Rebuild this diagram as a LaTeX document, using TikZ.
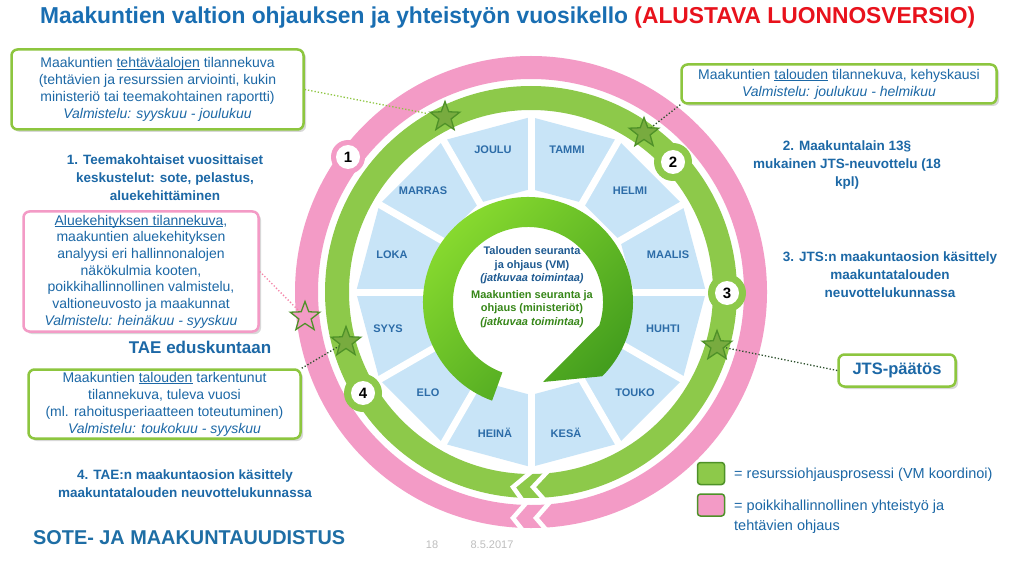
\documentclass[tikz,border=0pt]{standalone}
\usepackage{graphicx}
\usepackage{fontspec}
\setmainfont{Liberation Sans}
\usetikzlibrary{shapes.geometric,shadows,calc}
\definecolor{tblue}{RGB}{28,104,166}
\definecolor{titleblue}{RGB}{25,110,178}
\definecolor{tred}{RGB}{232,18,28}
\definecolor{gring}{RGB}{141,201,74}
\definecolor{pring}{RGB}{243,155,198}
\definecolor{gborder}{RGB}{141,198,63}
\definecolor{gdark}{RGB}{78,145,40}
\definecolor{mblue}{RGB}{200,228,247}
\definecolor{mtext}{RGB}{44,108,168}
\definecolor{cblue}{RGB}{30,90,145}
\definecolor{cgreen}{RGB}{55,135,25}
\definecolor{arlight}{RGB}{140,222,48}
\definecolor{ardark}{RGB}{68,158,30}
\definecolor{dotdark}{RGB}{45,80,45}
\definecolor{footgray}{RGB}{190,190,190}
\definecolor{sotecol}{RGB}{30,110,165}
\newcommand\myul[1]{\underline{\raisebox{0pt}[\height][0pt]{#1}}}
\tikzset{
  infobox/.style={draw=gborder, line width=2.5pt, rounded corners=6pt, fill=white, align=center, text=tblue,
    font=\fontsize{14}{17}\selectfont, inner sep=2pt,
    drop shadow={shadow xshift=2.5pt, shadow yshift=-2.5pt, opacity=0.3}},
  pinkbox/.style={infobox, draw=pring},
  steplabel/.style={align=center, text=tblue, font=\bfseries\fontsize{13.5}{18}\selectfont},
  monthlbl/.style={text=mtext, font=\bfseries\fontsize{11}{13}\selectfont},
  gstar/.style={star, star points=5, star point ratio=2.4, minimum size=31pt, inner sep=0pt,
    fill=gring!85!black, draw=gdark, line width=1.3pt},
  pstar/.style={gstar, fill=pring},
  numcirc/.style={circle, fill=white, minimum size=24pt, inner sep=0pt, font=\bfseries\fontsize{15}{15}\selectfont},
  dotline/.style={dotted, line width=1.3pt, draw=dotdark},
  chev/.style={draw=white, line width=4.5pt, miter limit=10},
  legsq/.style={draw=gdark, line width=1.5pt, rounded corners=3pt, minimum width=27pt, minimum height=22pt, inner sep=0pt},
}
\begin{document}
\begin{tikzpicture}[x=1pt,y=1pt]
\useasboundingbox (0,0) rectangle (1024,563);
\fill[white] (0,0) rectangle (1024,563);
\coordinate (C) at (531,271);
% rings
\fill[pring, even odd rule] (C) circle[radius=236pt] (C) circle[radius=213pt];
\fill[gring, even odd rule] (C) circle[radius=206pt] (C) circle[radius=182pt];
% chevron cuts
\draw[chev] (533.6,93) -- (513,76) -- (525,59);
\draw[chev] (549,93) -- (533,76) -- (548,59);
\draw[chev] (527,61) -- (513,45) -- (524,31);
\draw[chev] (550,61) -- (536,45) -- (548,31);
% month segments
\begin{scope}[shift={(C)}]
\foreach \a in {0,30,...,330} {
  \fill[mblue] (\a:103pt) -- (\a:175pt) -- (\a+30:175pt) -- (\a+30:103pt) -- cycle;
}
\foreach \a in {0,30,...,330} {
  \draw[white, line width=7pt] (\a:96pt) -- (\a:180pt);
}
\end{scope}
% month labels
\node[monthlbl] (m12) at (493,413) {JOULU};
\node[monthlbl] (m1) at (567,413) {TAMMI};
\node[monthlbl] (m11) at (423,372) {MARRAS};
\node[monthlbl] (m2) at (630,372) {HELMI};
\node[monthlbl] (m10) at (392,308) {LOKA};
\node[monthlbl] (m3) at (668,308) {MAALIS};
\node[monthlbl] (m9) at (388,234) {SYYS};
\node[monthlbl] (m4) at (663,234) {HUHTI};
\node[monthlbl] (m8) at (428,170) {ELO};
\node[monthlbl] (m5) at (635,170) {TOUKO};
\node[monthlbl] (m7) at (495,130) {HEINÄ};
\node[monthlbl] (m6) at (566,130) {KESÄ};
% central circular arrow
\begin{scope}[shift={(528,261)}]
\shade[top color=arlight, bottom color=ardark, shading angle=45]
  (250:105pt) arc[start angle=250, end angle=-45, radius=105pt] -- (15,-80)
  -- (-18:75pt) arc[start angle=-18, end angle=250, radius=75pt] -- cycle;
\end{scope}
% centre texts
\node[align=center, text=cblue, font=\bfseries\fontsize{11}{13.5}\selectfont] (ctop) at (532,297.5)
  {Talouden seuranta\\ja ohjaus (VM)\\\textit{(jatkuvaa  toimintaa)}};
\node[align=center, text=cgreen, font=\bfseries\fontsize{11}{13.5}\selectfont] (cbot) at (532,254)
  {Maakuntien seuranta ja\\ohjaus (ministeriöt)\\\textit{(jatkuvaa  toimintaa)}};
% numbered circles
\fill[pring] (348,406) circle[radius=17pt];
\node[numcirc] (n1) at (348,406) {1};
\fill[gring] (673,401) circle[radius=19pt];
\node[numcirc] (n2) at (673,401) {2};
\fill[gring] (727,270) circle[radius=19pt];
\node[numcirc] (n3) at (727,270) {3};
\fill[gring] (363,170) circle[radius=19pt];
\node[numcirc] (n4) at (363,170) {4};
% boxes
\node[infobox, minimum width=292pt, minimum height=80pt] (box1) at (157.5,473.5)
  {Maakuntien \myul{tehtäväalojen} tilannekuva\\(tehtävien ja resurssien arviointi, kukin\\ministeriö tai teemakohtainen raportti)\\\textit{Valmistelu: syyskuu - joulukuu}};
\node[infobox, minimum width=315pt, minimum height=39pt] (box2) at (839,479)
  {Maakuntien \myul{talouden} tilannekuva, kehyskausi\\\textit{Valmistelu: joulukuu - helmikuu}};
\node[pinkbox, minimum width=235pt, minimum height=120pt, font=\fontsize{14}{16.7}\selectfont] (box3) at (141,291.5)
  {\myul{Aluekehityksen tilannekuva},\\maakuntien aluekehityksen\\analyysi eri hallinnonalojen\\näkökulmia kooten,\\poikkihallinnollinen valmistelu,\\valtioneuvosto ja maakunnat\\\textit{Valmistelu: heinäkuu - syyskuu}};
\node[infobox, minimum width=272pt, minimum height=69pt] (box4) at (164.5,159)
  {Maakuntien \myul{talouden} tarkentunut\\tilannekuva, tuleva vuosi\\(ml. rahoitusperiaatteen toteutuminen)\\\textit{Valmistelu: toukokuu - syyskuu}};
\node[infobox, minimum width=117pt, minimum height=32pt, font=\bfseries\fontsize{16.5}{18}\selectfont] (box5) at (897,192.5)
  {JTS-päätös};
% step labels
\node[steplabel] (l1) at (165,385) {1. Teemakohtaiset vuosittaiset\\keskustelut: sote, pelastus,\\aluekehittäminen};
\node[steplabel] (l2) at (847,398) {2. Maakuntalain 13§\\mukainen JTS-neuvottelu (18\\kpl)};
\node[steplabel] (l3) at (890,288) {3. JTS:n maakuntaosion käsittely\\maakuntatalouden\\neuvottelukunnassa};
\node[steplabel, font=\bfseries\fontsize{17}{20}\selectfont] (tae) at (200,216) {TAE eduskuntaan};
\node[steplabel] (l4) at (185,79) {4. TAE:n maakuntaosion käsittely\\maakuntatalouden neuvottelukunnassa};
% star positions and connectors
\coordinate (sA) at (445,446);
\coordinate (sB) at (644,430);
\coordinate (sC) at (717,217);
\coordinate (sD) at (346,221);
\coordinate (sE) at (305,246);
\draw[dotted, line width=1.3pt, draw=gborder] (box1.east) -- (sA);
\draw[dotline] (box2.south west) -- (sB);
\draw[dotline] (box5.west) -- (sC);
\draw[dotted, line width=1.3pt, draw=pring!85!red] (box3.east) -- (sE);
\draw[dotline] (box4.north east) -- (sD);
\node[gstar] (starA) at (sA) {};
\node[gstar] (starB) at (sB) {};
\node[gstar] (starC) at (sC) {};
\node[gstar] (starD) at (sD) {};
\node[pstar] (starE) at (sE) {};
% legend
\node[legsq, fill=gring] (lg1) at (711,89.5) {};
\node[legsq, fill=pring] (lg2) at (711,58) {};
\node[anchor=west, text=tblue, font=\fontsize{14.5}{20}\selectfont, inner sep=0pt] (lt1) at (734,88)
  {= resurssiohjausprosessi  (VM koordinoi)};
\node[anchor=west, align=left, text=tblue, font=\fontsize{14.5}{20}\selectfont, inner sep=0pt] (lt2) at (734,46)
  {= poikkihallinnollinen  yhteistyö ja\\tehtävien ohjaus};
% title
\node[anchor=west, inner sep=0pt] (title) at (40,545)
  {\resizebox{935pt}{\height}{\bfseries\fontsize{23}{26}\selectfont\textcolor{titleblue}{Maakuntien valtion ohjauksen ja yhteistyön vuosikello} \textcolor{tred}{(ALUSTAVA LUONNOSVERSIO)}}};
% footer
\node[anchor=west, inner sep=0pt, text=sotecol] (sote) at (33,25)
  {\resizebox{312pt}{\height}{\bfseries\fontsize{20}{22}\selectfont SOTE- JA MAAKUNTAUUDISTUS}};
\node[text=footgray, font=\fontsize{11}{13}\selectfont] (pg) at (432,18) {18};
\node[text=footgray, font=\fontsize{11}{13}\selectfont] (dt) at (492,18) {8.5.2017};
\end{tikzpicture}
\end{document}
